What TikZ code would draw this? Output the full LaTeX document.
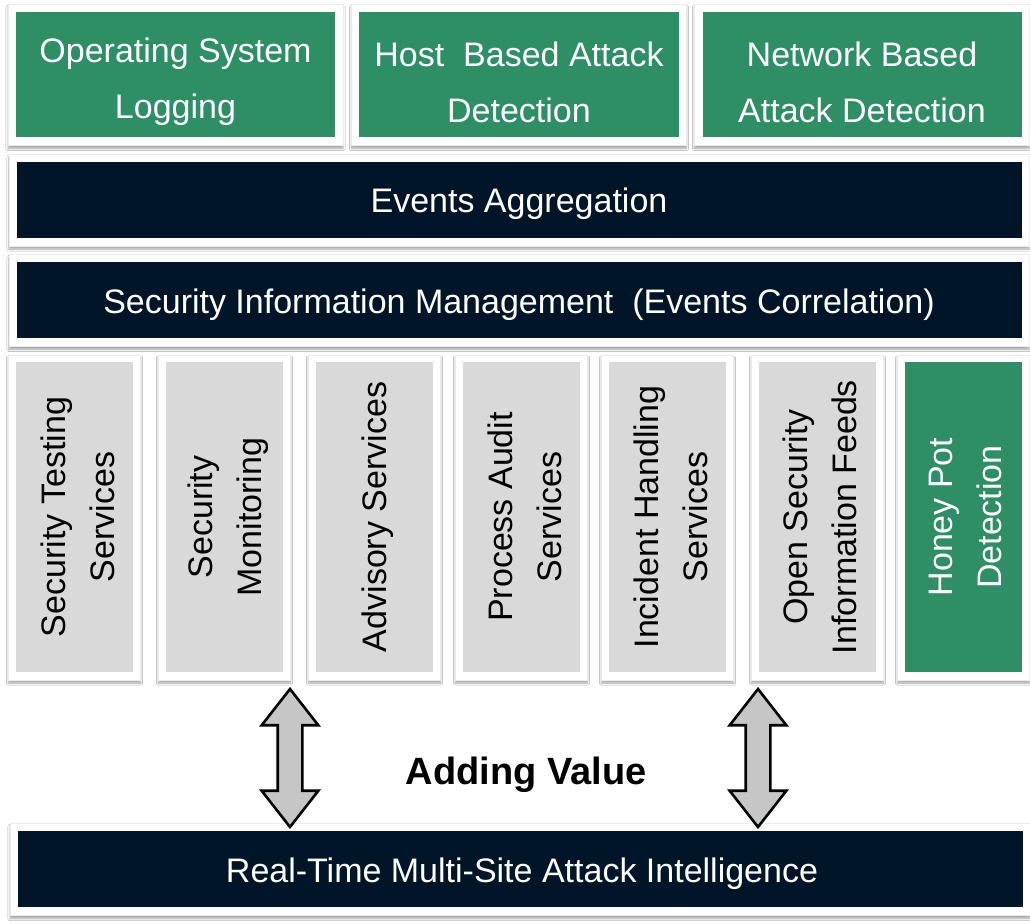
\documentclass[tikz,border=0pt]{standalone}
\usepackage{fontspec}
\setmainfont{Liberation Sans}
\usetikzlibrary{shapes.arrows,shadows.blur}

\definecolor{hpgreen}{RGB}{46,142,102}
\definecolor{navyblue}{RGB}{1,21,40}
\definecolor{svcgray}{RGB}{217,217,217}
\definecolor{arrowgray}{RGB}{198,198,198}

\begin{document}
\begin{tikzpicture}[x=1pt,y=-1pt,
  panelframe/.style={rectangle, fill=white, draw=black!8, line width=0.6pt, inner sep=0pt,
    blur shadow={shadow xshift=0pt, shadow yshift=-3pt, shadow blur steps=6, shadow opacity=35}},
  greenbox/.style={rectangle, fill=hpgreen, inner sep=0pt, minimum width=319pt, minimum height=125pt},
  navybar/.style={rectangle, fill=navyblue, inner sep=0pt, minimum width=1005pt, minimum height=76pt},
  servicebox/.style={rectangle, fill=svcgray, inner sep=0pt, minimum width=117pt, minimum height=310pt},
  greencol/.style={servicebox, fill=hpgreen},
  toptext/.style={text=white, inner sep=0pt, align=center, font=\fontsize{34}{56}\selectfont},
  bartext/.style={text=white, inner sep=0pt, font=\fontsize{34}{40}\selectfont},
  coltext/.style={text=black, inner sep=0pt, align=center, rotate=90, font=\fontsize{34}{49}\selectfont},
  topframe/.style={panelframe, minimum width=335pt, minimum height=141pt},
  barframe/.style={panelframe, minimum width=1020pt, minimum height=92pt},
  colframe/.style={panelframe, minimum width=132pt, minimum height=325pt},
  valuearrow/.style={double arrow, rotate=90, draw=black, line width=2.6pt, fill=arrowgray,
    inner sep=11pt, double arrow head extend=16pt,
    double arrow tip angle=76, minimum height=138pt}
]
\fill[white] (0,0) rectangle (1030,923);
\useasboundingbox (0,0) rectangle (1030,923);

% sources of events
\node[topframe] (osf) at (175.5,75) {};
\node[topframe] (hostf) at (519,75) {};
\node[topframe] (netf) at (862,75) {};
\node[greenbox] (os) at (175.5,74.5) {};
\node[greenbox, minimum width=320pt] (host) at (519,74.5) {};
\node[greenbox] (net) at (862,74.5) {};
\node[toptext] (ostxt) at (175.5,82) {Operating System\\Logging};
\node[toptext] (hosttxt) at (519,82) {Host\ \ Based Attack\\Detection};
\node[toptext] (nettxt) at (862,82) {Network Based\\Attack Detection};

% aggregation and correlation layers
\node[barframe] (aggf) at (519,200) {};
\node[navybar] (agg) at (519,199.5) {};
\node[bartext] (aggtxt) at (519,204) {Events Aggregation};
\node[barframe] (simf) at (519,300.5) {};
\node[navybar] (sim) at (519,300) {};
\node[bartext] (simtxt) at (519,305) {Security Information Management\ \ (Events Correlation)};

% service columns
\foreach \cx/\nm in {74.5/c1,224.5/c2,374.5/c3,521.5/c4,667.5/c5,817.5/c6,963.5/c7}
  \node[colframe] (\nm f) at (\cx,517.5) {};
\node[servicebox] (testing) at (74.5,517) {};
\node[servicebox] (monitoring) at (224.5,517) {};
\node[servicebox] (advisory) at (374.5,517) {};
\node[servicebox] (audit) at (521.5,517) {};
\node[servicebox] (incident) at (667.5,517) {};
\node[servicebox] (feeds) at (817.5,517) {};
\node[greencol] (honeypot) at (963.5,517) {};
\node[coltext] (testingtxt) at (77.5,517) {Security Testing\\Services};
\node[coltext] (monitoringtxt) at (228,517) {Security\\Monitoring};
\node[coltext] (advisorytxt) at (377.5,517) {Advisory Services};
\node[coltext] (audittxt) at (524.5,517) {Process Audit\\Services};
\node[coltext] (incidenttxt) at (670.5,517) {Incident Handling\\Services};
\node[coltext] (feedstxt) at (820,517) {Open Security\\Information Feeds};
\node[coltext, text=white] (honeypottxt) at (965.5,517) {Honey Pot\\Detection};

% intelligence layer
\node[barframe] (intelf) at (520,869.5) {};
\node[navybar] (intel) at (520,869) {};
\node[bartext] (inteltxt) at (522,874) {Real-Time Multi-Site Attack Intelligence};

% two-way exchange between services and intelligence
\node[valuearrow] (leftarrow) at (290,758) {};
\node[valuearrow] (rightarrow) at (758,758) {};
\node[font=\bfseries\fontsize{38}{42}\selectfont, inner sep=0pt] (value) at (526,775) {Adding Value};
\end{tikzpicture}
\end{document}
